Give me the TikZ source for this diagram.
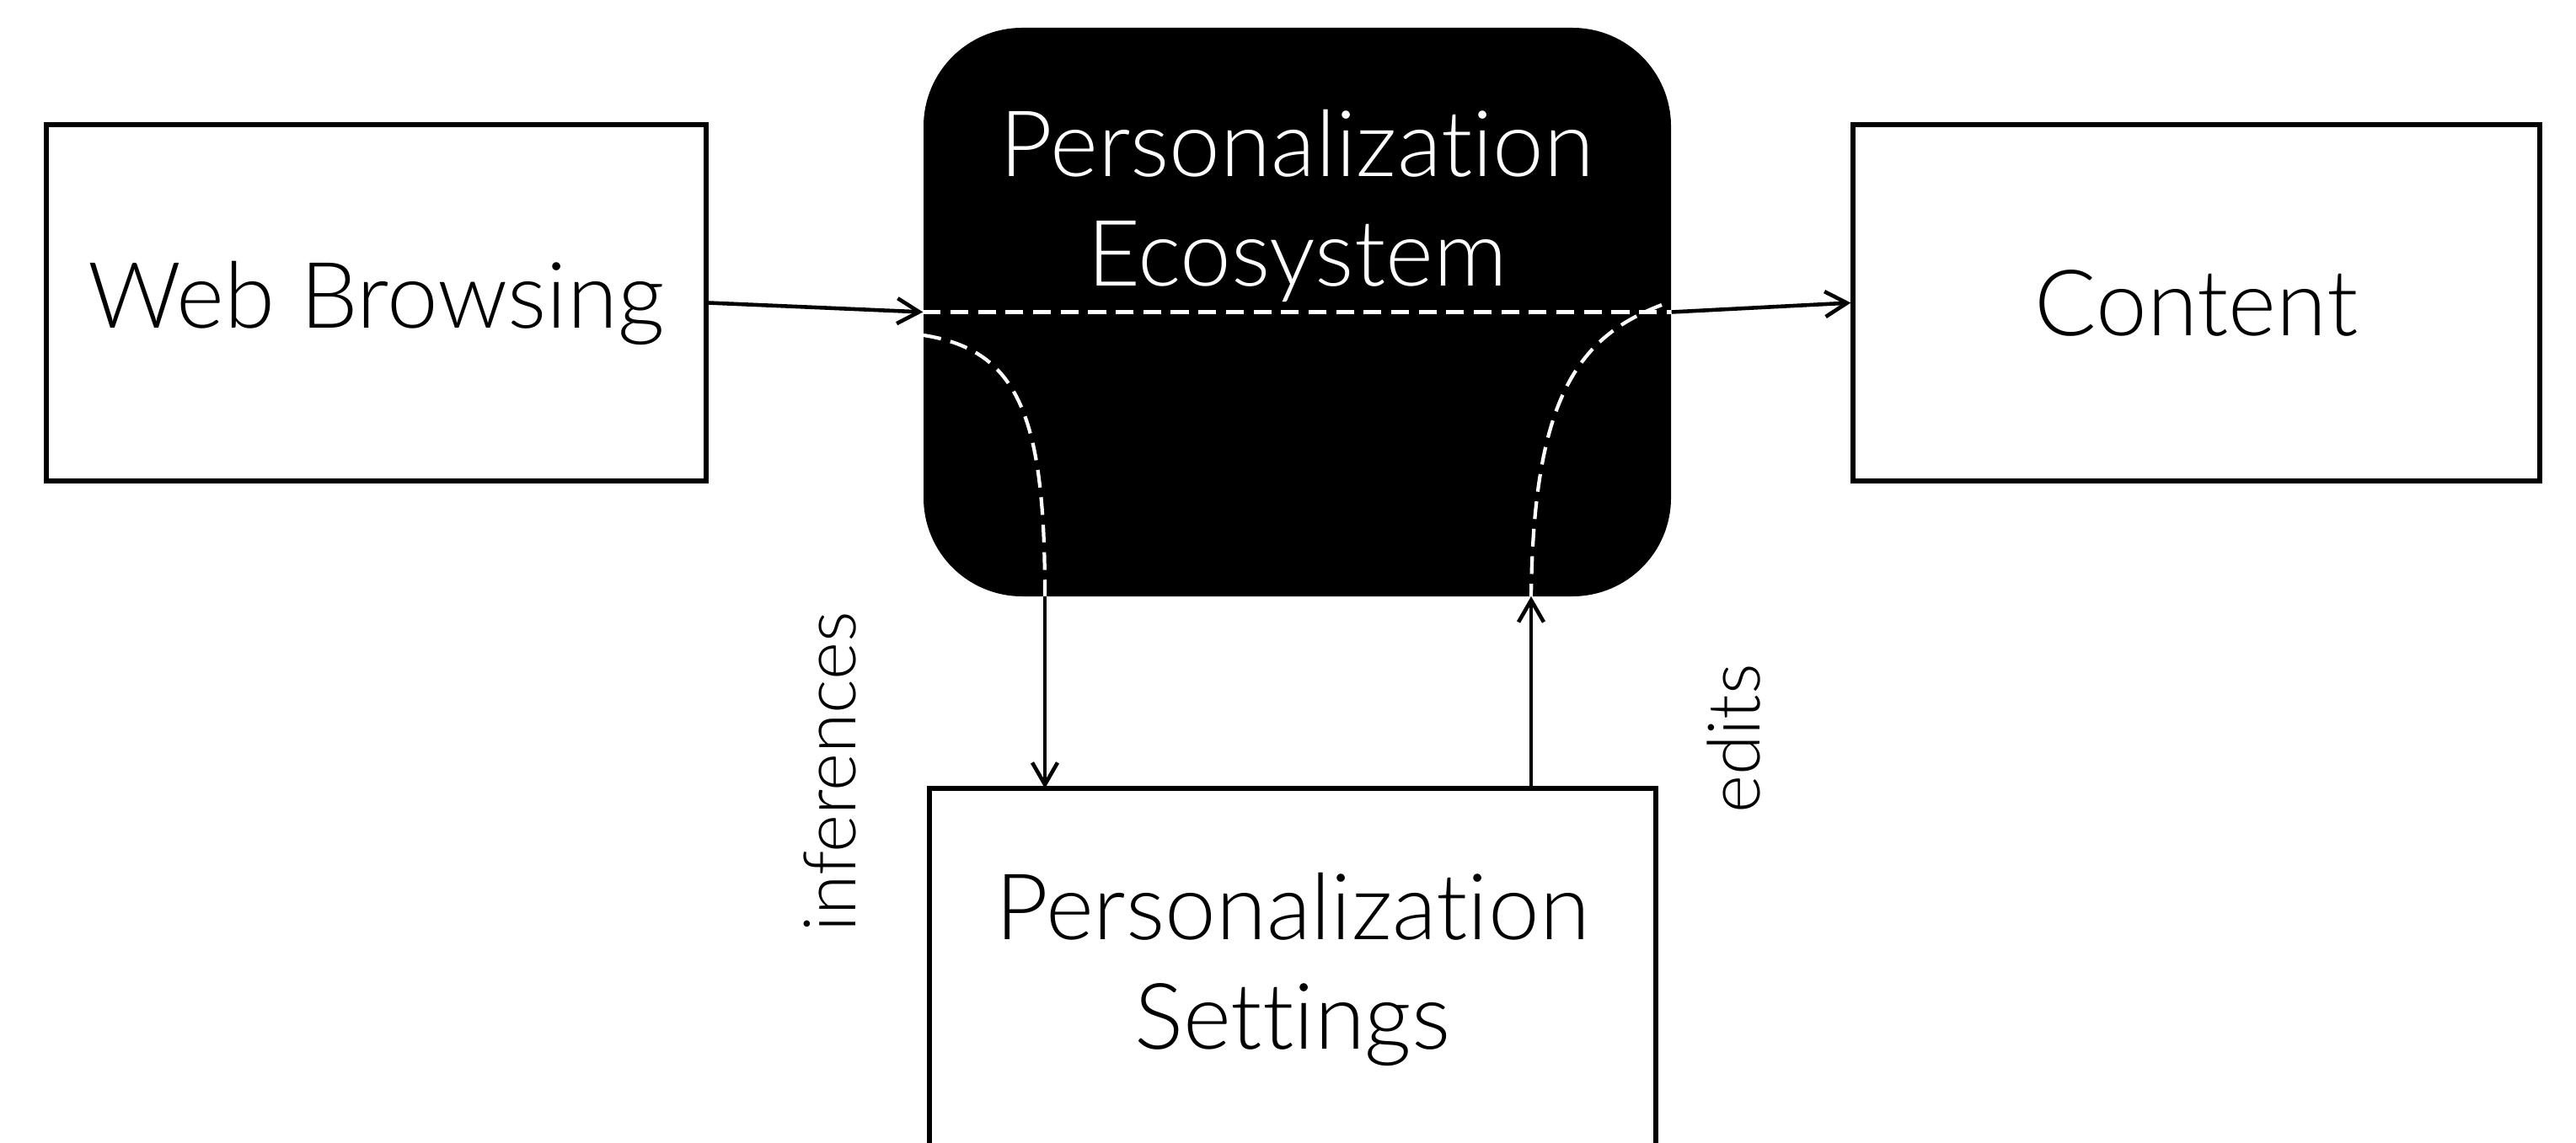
\documentclass[tikz,border=0pt]{standalone}
\usepackage{fontspec}
\setmainfont{Lato Light}[Ligatures={NoCommon,NoContextual}]
\usetikzlibrary{arrows.meta}

\begin{document}
\begin{tikzpicture}
  [every node/.style={font=\fontsize{31}{37}\selectfont},
   box/.style={draw,line width=1.5pt,minimum width=7.83cm,minimum height=4.23cm},
   flow/.style={line width=1.3pt,-{Straight Barb[length=2.6mm,width=3mm]}},
   track/.style={white,line width=1.2pt,dash pattern=on 6pt off 3.3pt},
   side/.style={rotate=90,font=\fontsize{24.5}{29}\selectfont}]
  \useasboundingbox (0,0) rectangle (30.57,13.56);

  \node[box] (web) at (4.465,9.965) {Web Browsing};
  \node[box,minimum width=8.15cm] (content) at (26.065,9.965) {Content};
  \node[fill=black,rounded corners=1.17cm,minimum width=8.87cm,minimum height=6.75cm] (eco) at (15.395,9.855) {};
  \node[white,align=center] (ecotext) at (15.395,11.12) {Personalization\\Ecosystem};
  \node[box,minimum width=8.62cm,minimum height=4.3cm,align=center] (settings) at (15.34,2.05) {Personalization\\Settings};

  \coordinate (infin) at (10.96,9.58);
  \coordinate (inftop) at (12.40,6.48);
  \coordinate (infbot) at (12.40,4.20);
  \coordinate (edin) at (19.72,9.94);
  \coordinate (edtop) at (18.17,6.48);
  \coordinate (edbot) at (18.17,4.20);

  % paths through the ecosystem
  \draw[track] (eco.west) -- (eco.east);
  \draw[track] (infin) .. controls (12.1,9.4) and (12.4,8.6) .. (inftop);
  \draw[track] (edin) .. controls (18.7,9.55) and (18.2,8.8) .. (edtop);

  \foreach \from/\to in {web.east/eco.west,eco.east/content.west,inftop/infbot,edbot/edtop}
    \draw[flow] (\from) -- (\to);

  \node[side] (inflabel) at (9.85,4.40) {inferences};
  \node[side] (edlabel) at (20.57,4.79) {edits};
\end{tikzpicture}
\end{document}
